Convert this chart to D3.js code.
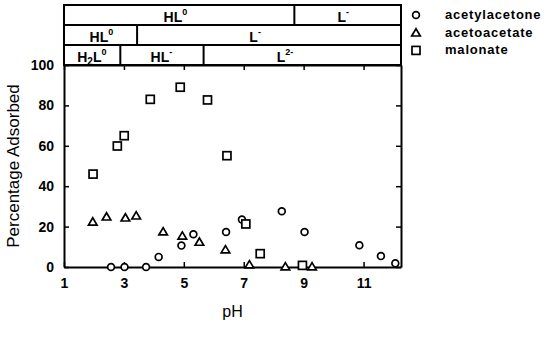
<!DOCTYPE html>
<html>
<head>
<meta charset="utf-8">
<script src="https://cdn.jsdelivr.net/npm/d3@7"></script>
<style>
  body { margin: 0; background: #fff; }
  svg { display: block; font-family: Arial, "Liberation Sans", sans-serif; }
  .tick text { font-size: 14px; font-weight: bold; fill: #000; }
  .band-label { font-size: 14px; font-weight: bold; }
  .legend text { font-size: 13px; font-weight: bold; letter-spacing: 0.8px; }
</style>
</head>
<body>
<svg id="chart" width="553" height="339"></svg>
<script>
// series: pH and percentage adsorbed
var acetylacetone = [
  [2.57, 0], [3.02, 0], [3.74, 0], [4.16, 5], [4.92, 10.6], [5.32, 16.2],
  [6.41, 17.3], [6.94, 23.5], [8.27, 27.6], [9.03, 17.3], [10.86, 10.8],
  [11.58, 5.4], [12.06, 1.8]
];
var acetoacetate = [
  [1.96, 22.4], [2.42, 24.9], [3.05, 24.4], [3.41, 25.4], [4.31, 17.5],
  [4.95, 15.4], [5.52, 12.4], [6.39, 8.6], [7.19, 1.2], [8.39, 0.2], [9.28, 0.2]
];
var malonate = [
  [1.97, 46], [2.78, 59.9], [3.01, 65], [3.88, 83], [4.88, 89], [5.79, 82.7],
  [6.44, 55.1], [7.07, 21.3], [7.55, 6.6], [8.96, 0.8]
];

var seriesNames = ['acetylacetone', 'acetoacetate', 'malonate'];
var xTicks = [1, 3, 5, 7, 9, 11];
var yTicks = [0, 20, 40, 60, 80, 100];

// speciation bands (boundaries in pH), one row per ligand, top to bottom
var bandEdges = [
  [1, 8.69, 12.25],
  [1, 3.44, 12.25],
  [1, 2.88, 5.66, 12.25]
];
// species labels: [base, subscript, superscript, pH where the label sits]
var bandSpecies = [
  [['HL', '', '0', 4.72], ['L', '', '-', 10.32]],
  [['HL', '', '0', 2.25], ['L', '', '-', 7.38]],
  [['H', '2', 'L0', 1.93], ['HL', '', '-', 4.25], ['L', '', '2-', 8.38]]
];

(function () {
  var svg = d3.select('#chart'),
      plotL = 64, plotR = 401, plotT = 65, plotB = 267,
      bandTop = 5, rowH = 20;

  var x = d3.scaleLinear().domain([1, 12.25]).range([plotL, plotR]);
  var y = d3.scaleLinear().domain([0, 100]).range([plotB, plotT]);

  // axes, ticks pointing inward
  var xAxis = svg.append('g')
    .attr('transform', 'translate(0,' + plotB + ')')
    .call(d3.axisBottom(x).tickValues(xTicks).tickSize(-5).tickSizeOuter(0).tickPadding(11));
  svg.append('g')
    .attr('transform', 'translate(0,' + plotT + ')')
    .call(d3.axisTop(x).tickValues(xTicks).tickSize(-5).tickSizeOuter(0).tickFormat(''));
  svg.append('g')
    .attr('transform', 'translate(' + plotL + ',0)')
    .call(d3.axisLeft(y).tickValues(yTicks).tickSize(-5).tickSizeOuter(0).tickPadding(10));
  svg.append('g')
    .attr('transform', 'translate(' + plotR + ',0)')
    .call(d3.axisRight(y).tickValues(yTicks).tickSize(-5).tickSizeOuter(0).tickFormat(''));

  svg.selectAll('.domain').attr('stroke', '#000').attr('stroke-width', 2);
  svg.selectAll('.tick line').attr('stroke', '#000').attr('stroke-width', 1.5);
  xAxis.selectAll('.tick text').attr('dy', '0.71em');

  // speciation bands
  var bands = svg.append('g').attr('class', 'bands');
  bandEdges.forEach(function (edges, i) {
    var y0 = bandTop + i * rowH;
    bands.append('rect')
      .attr('x', x(edges[0])).attr('y', y0)
      .attr('width', x(edges[edges.length - 1]) - x(edges[0])).attr('height', rowH)
      .attr('fill', 'none').attr('stroke', '#000').attr('stroke-width', 2);
    edges.slice(1, -1).forEach(function (e) {
      bands.append('line')
        .attr('x1', x(e)).attr('x2', x(e))
        .attr('y1', y0).attr('y2', y0 + rowH)
        .attr('stroke', '#000').attr('stroke-width', 2);
    });

    bandSpecies[i].forEach(function (s) {
      var t = bands.append('text')
        .attr('class', 'band-label')
        .attr('x', x(s[3])).attr('y', y0 + 16.5)
        .attr('text-anchor', 'middle');
      t.append('tspan').text(s[0]);
      if (s[1]) {
        t.append('tspan').attr('font-size', 10).attr('dy', 3).text(s[1]);
        t.append('tspan').attr('dy', -3).text(s[2].charAt(0));
        t.append('tspan').attr('font-size', 9).attr('dy', -7).text(s[2].slice(1));
      } else {
        t.append('tspan').attr('font-size', 9).attr('dy', -7).text(s[2]);
      }
    });
  });

  // marker shapes
  var shapes = {
    acetylacetone: function (g) {
      g.append('circle').attr('r', 3.4);
    },
    acetoacetate: function (g) {
      g.append('path').attr('d', 'M0,-4 L4.3,3.3 L-4.3,3.3Z');
    },
    malonate: function (g) {
      g.append('rect').attr('x', -4).attr('y', -4).attr('width', 8).attr('height', 8);
    }
  };

  function drawSeries(name, data) {
    var marks = svg.append('g').attr('class', name)
      .selectAll('g').data(data).enter()
      .append('g')
      .attr('transform', function (d) { return 'translate(' + x(d[0]) + ',' + y(d[1]) + ')'; });
    shapes[name](marks);
    marks.selectAll('*').attr('fill', '#fff').attr('stroke', '#000').attr('stroke-width', 1.7);
  }

  drawSeries('acetylacetone', acetylacetone);
  drawSeries('acetoacetate', acetoacetate);
  drawSeries('malonate', malonate);

  // legend
  var legend = svg.append('g').attr('class', 'legend');
  seriesNames.forEach(function (name, i) {
    var row = legend.append('g').attr('transform', 'translate(416,' + (15 + i * 17.7) + ')');
    var sym = row.append('g');
    shapes[name](sym);
    sym.selectAll('*').attr('fill', '#fff').attr('stroke', '#000').attr('stroke-width', 1.7);
    row.append('text').attr('x', 29).attr('y', 4).text(name);
  });

  // axis titles
  svg.append('text')
    .attr('x', (plotL + plotR) / 2).attr('y', 317)
    .attr('text-anchor', 'middle')
    .attr('font-size', 16)
    .text('pH');

  svg.append('text')
    .attr('transform', 'translate(19,' + ((plotT + plotB) / 2) + ') rotate(-90)')
    .attr('text-anchor', 'middle')
    .attr('font-size', 17)
    .text('Percentage Adsorbed');
})();
</script>
</body>
</html>
